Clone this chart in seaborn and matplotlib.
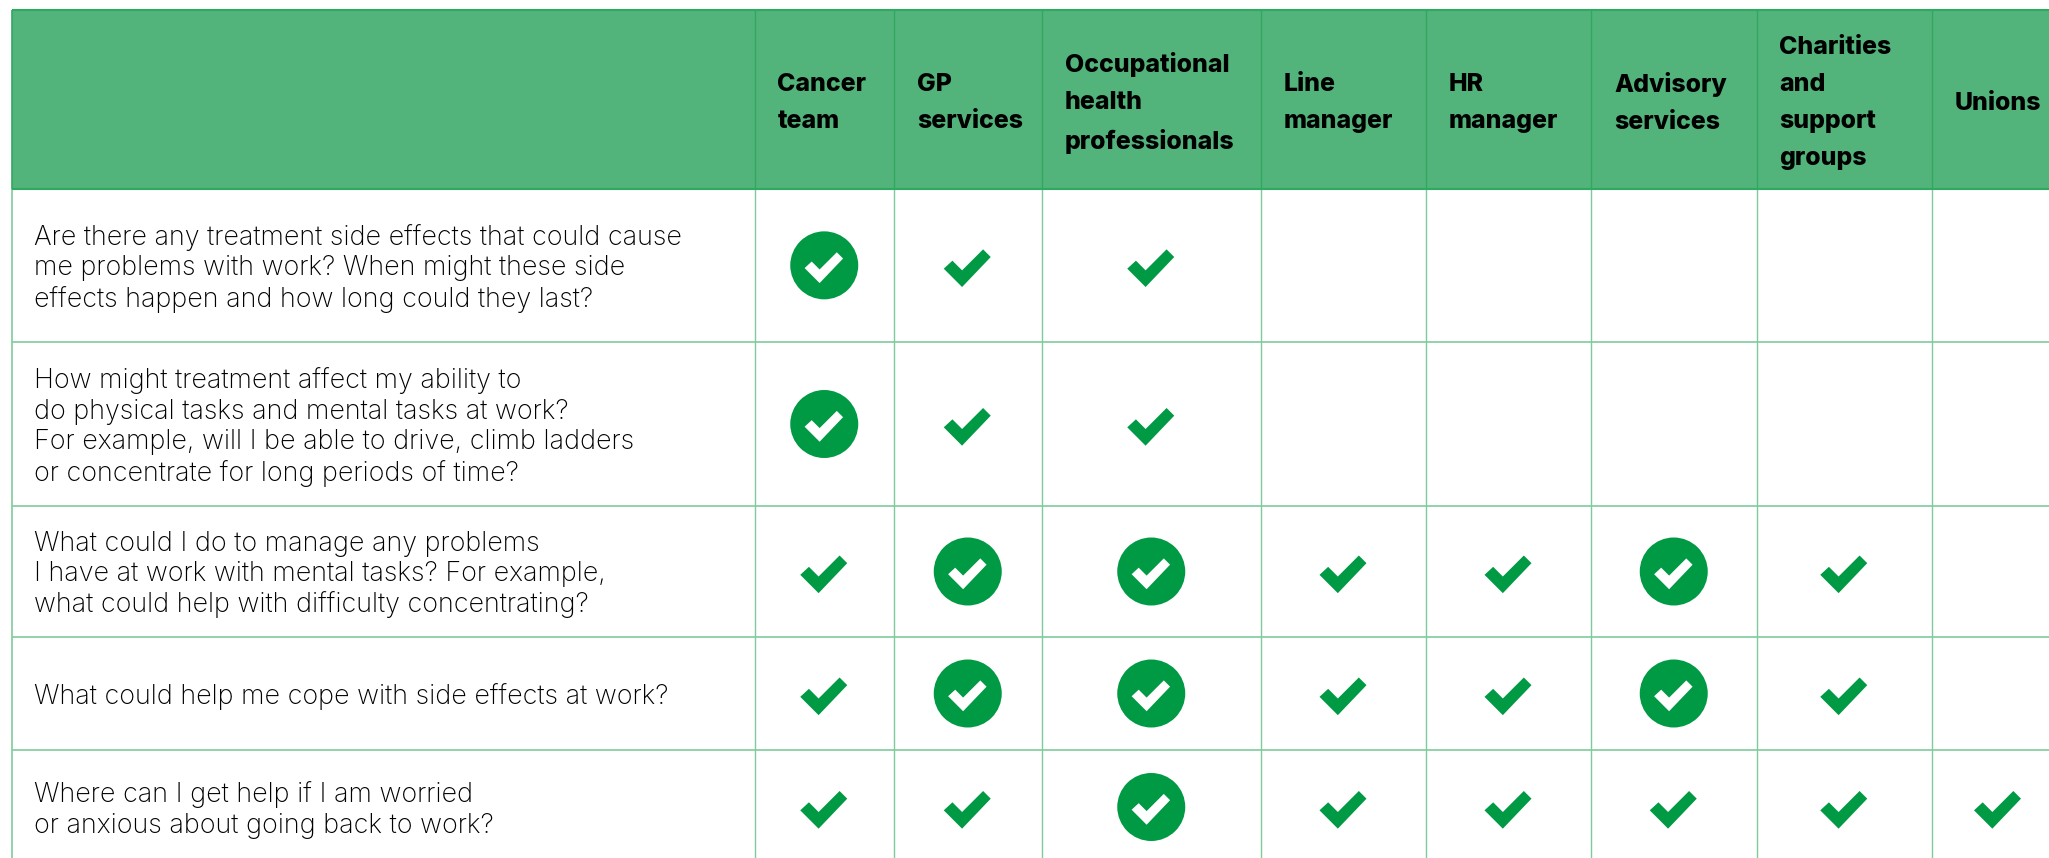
import pandas as pd
import seaborn as sns
import matplotlib.pyplot as plt
from matplotlib.path import Path
from matplotlib.patches import Rectangle

# 0 = empty, 1 = tick, 2 = tick in a circle
columns = ['Cancer\nteam', 'GP\nservices', 'Occupational\nhealth\nprofessionals',
           'Line\nmanager', 'HR\nmanager', 'Advisory\nservices',
           'Charities\nand\nsupport\ngroups', 'Unions']
questions = [
    'Are there any treatment side effects that could cause\nme problems with work? When might these side\neffects happen and how long could they last?',
    'How might treatment affect my ability to\ndo physical tasks and mental tasks at work?\nFor example, will I be able to drive, climb ladders\nor concentrate for long periods of time?',
    'What could I do to manage any problems\nI have at work with mental tasks? For example,\nwhat could help with difficulty concentrating?',
    'What could help me cope with side effects at work?',
    'Where can I get help if I am worried\nor anxious about going back to work?',
]
row1 = [2, 1, 1, 0, 0, 0, 0, 0]
row2 = [2, 1, 1, 0, 0, 0, 0, 0]
row3 = [1, 2, 2, 1, 1, 2, 1, 0]
row4 = [1, 2, 2, 1, 1, 2, 1, 0]
row5 = [1, 1, 2, 1, 1, 1, 1, 1]
rows = [row1, row2, row3, row4, row5]

# table layout, in pixels of the picture
col_edges = [754.5, 894, 1041.5, 1261, 1426, 1591, 1756.5, 1932, 2064]
row_edges = [188.7, 342, 506, 637, 750, 864]
left = 11.5
top = 9.5

header_green = '#52B47A'
header_line = '#2FA862'
cell_line = '#7FCB9C'
tick_green = '#009A44'

sns.set_theme(style='white')
plt.rcParams['font.family'] = ['Inter', 'DejaVu Sans']

records = []
for r, row in enumerate(rows):
    for c, val in enumerate(row):
        if val > 0:
            records.append({'x': (col_edges[c] + col_edges[c + 1]) / 2,
                            'y': (row_edges[r] + row_edges[r + 1]) / 2,
                            'kind': val})
df = pd.DataFrame(records)

tick = Path([(-72, -10), (-46, 14), (-17, -15), (46, 48), (69, 25), (-17, -65), (-72, -10)], closed=True)

fig, ax = plt.subplots(figsize=(20.49, 8.58), dpi=100)
ax.set_position([0, 0, 1, 1])

ax.add_patch(Rectangle((left, top), 2049 - left, row_edges[0] - top, color=header_green, lw=0, zorder=0))
ax.hlines(top, left, 2049, color=header_line, lw=1.5, zorder=1)
ax.vlines(left, top, row_edges[0], color=header_line, lw=1.2, zorder=1)
ax.vlines(left, row_edges[0], 858, color=cell_line, lw=1.2, zorder=1)
ax.vlines(col_edges[:-1], top, row_edges[0], color=header_line, lw=1, zorder=1)
ax.vlines(col_edges[:-1], row_edges[0], 858, color=cell_line, lw=1, zorder=1)
ax.hlines(row_edges[0], left, 2049, color=header_line, lw=1.5, zorder=1)
ax.hlines(row_edges[1:-1], left, 2049, color=cell_line, lw=1.2, zorder=1)

plain = df[df.kind == 1]
circled = df[df.kind == 2]
sns.scatterplot(data=plain, x='x', y='y', marker=tick, s=1194, color=tick_green,
                linewidth=0, edgecolor='none', ax=ax, zorder=3)
sns.scatterplot(data=circled, x='x', y='y', marker='o', s=2397, color=tick_green,
                linewidth=0, edgecolor='none', ax=ax, zorder=3)
sns.scatterplot(data=circled, x='x', y='y', marker=tick, s=800, color='white',
                linewidth=0, edgecolor='none', ax=ax, zorder=4)

for c, name in enumerate(columns):
    ax.text(col_edges[c] + 23, (top + row_edges[0]) / 2 + 4, name, fontsize=17.9, fontweight='heavy',
            color='black', ha='left', va='center', linespacing=1.78)
for r, q in enumerate(questions):
    ax.text(34, (row_edges[r] + row_edges[r + 1]) / 2 + 3, q, fontsize=19.4, fontweight='light',
            color='black', ha='left', va='center', linespacing=1.22)

ax.set_xlim(0, 2049)
ax.set_ylim(858, 0)
ax.set_xlabel('')
ax.set_ylabel('')
ax.axis('off')

fig.savefig('out.png', dpi=100)
